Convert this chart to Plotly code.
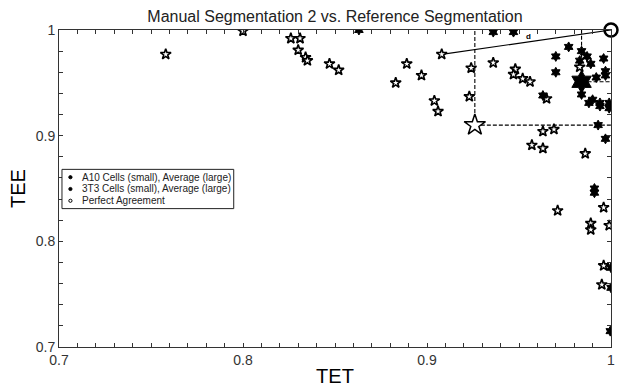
import plotly.graph_objects as go

# A10 cells: (TET, TEE) per cell
a10_tet = [0.863, 0.936, 0.947, 0.977, 0.970, 0.970, 0.984, 0.987, 0.983, 0.989,
           0.996, 0.997, 0.992, 0.997, 0.984, 0.988, 0.990, 0.994, 0.994, 0.999,
           0.999, 0.963, 0.993, 0.997, 0.991, 0.991, 1.000, 1.000, 0.9996]
a10_tee = [1.000, 0.998, 0.998, 0.984, 0.975, 0.960, 0.980, 0.975, 0.971, 0.968,
           0.973, 0.961, 0.955, 0.957, 0.939, 0.931, 0.934, 0.931, 0.928, 0.931,
           0.926, 0.938, 0.910, 0.897, 0.850, 0.846, 0.775, 0.756, 0.715]
a10_avg = (0.984, 0.951)

# 3T3 cells: (TET, TEE) per cell
t3_tet = [0.758, 0.800, 0.826, 0.831, 0.830, 0.834, 0.835, 0.847, 0.852, 0.883,
          0.889, 0.897, 0.904, 0.906, 0.908, 0.924, 0.923, 0.936, 0.948, 0.947,
          0.952, 0.956, 0.965, 0.983, 0.963, 0.969, 0.957, 0.963, 0.986, 0.971,
          0.996, 0.989, 0.989, 0.999, 0.996, 0.995]
t3_tee = [0.977, 0.999, 0.992, 0.992, 0.981, 0.974, 0.971, 0.968, 0.962, 0.950,
          0.968, 0.957, 0.933, 0.923, 0.977, 0.964, 0.937, 0.969, 0.963, 0.958,
          0.954, 0.951, 0.935, 0.965, 0.904, 0.906, 0.891, 0.888, 0.883, 0.829,
          0.832, 0.817, 0.811, 0.815, 0.777, 0.759]
t3_avg = (0.926, 0.910)

perfect = (1.0, 1.0)
# cell whose distance d to perfect agreement is illustrated
d_point = (0.908, 0.977)

tick_vals = [0.7, 0.8, 0.9, 1.0]
tick_text = ["0.7", "0.8", "0.9", "1"]

legend_names = ["A10 Cells (small), Average (large)",
                "3T3 Cells (small), Average (large)",
                "Perfect Agreement"]
legend_filled = [True, True, False]

W, H = 623, 392
ML, MR, MT, MB = 59, 8, 30, 39
PW, PH = W - ML - MR, H - MT - MB


def px(x):
    """pixel column -> paper x"""
    return (x - ML) / PW


def py(y):
    """pixel row -> paper y"""
    return 1 - (y - MT) / PH


fig = go.Figure()

# dashed guides from each average to the TET=1 and TEE=1 edges
for ax, ay in (t3_avg, a10_avg):
    fig.add_trace(go.Scatter(x=[ax, ax, None, ax, 1.0], y=[ay, 1.0, None, ay, ay],
                             mode="lines",
                             line=dict(color="black", width=1.1, dash="4px,2px"),
                             showlegend=False, hoverinfo="skip"))

# distance line d
fig.add_trace(go.Scatter(x=[d_point[0], perfect[0]], y=[d_point[1], perfect[1]],
                         mode="lines", line=dict(color="black", width=1.2),
                         showlegend=False, hoverinfo="skip"))

fig.add_trace(go.Scatter(x=t3_tet, y=t3_tee, mode="markers",
                         marker=dict(symbol="star", size=8, color="white",
                                     line=dict(color="black", width=1.6)),
                         showlegend=False))
fig.add_trace(go.Scatter(x=a10_tet, y=a10_tee, mode="markers",
                         marker=dict(symbol="hexagram", size=7.5, color="black",
                                     line=dict(color="black", width=1)),
                         showlegend=False))

# averages
fig.add_trace(go.Scatter(x=[t3_avg[0]], y=[t3_avg[1]], mode="markers",
                         marker=dict(symbol="star", size=16, color="white",
                                     line=dict(color="black", width=1.5)),
                         showlegend=False))
fig.add_trace(go.Scatter(x=[a10_avg[0]], y=[a10_avg[1]], mode="markers",
                         marker=dict(symbol="hexagram", size=17, color="black",
                                     line=dict(color="black", width=1)),
                         showlegend=False))

fig.add_trace(go.Scatter(x=[perfect[0]], y=[perfect[1]], mode="markers",
                         marker=dict(symbol="circle-open", size=13,
                                     line=dict(color="black", width=2.5), color="black"),
                         cliponaxis=False, showlegend=False))

fig.add_annotation(x=0.955, y=0.994, text="<b>d</b>", showarrow=False,
                   font=dict(size=8, color="black", family="Arial"))

# legend box
fig.add_shape(type="rect", xref="paper", yref="paper",
              x0=px(62), x1=px(235), y0=py(212), y1=py(172),
              line=dict(color="#222", width=1), fillcolor="white", layer="above")
for i, (name, filled) in enumerate(zip(legend_names, legend_filled)):
    row = 180 + 12 * i
    fig.add_shape(type="circle", xref="paper", yref="paper",
                  xsizemode="pixel", ysizemode="pixel",
                  xanchor=px(70.5), yanchor=py(row),
                  x0=-1.6, x1=1.6, y0=-1.6, y1=1.6,
                  line=dict(color="black", width=1),
                  fillcolor="black" if filled else "white", layer="above")
    fig.add_annotation(xref="paper", yref="paper", x=px(80), y=py(row),
                       xanchor="left", yanchor="middle", text=name, showarrow=False,
                       font=dict(size=10, color="#222", family="Arial"))

axis_common = dict(
    showgrid=False, zeroline=False, showline=True, linecolor="#333", linewidth=1,
    mirror="ticks", ticks="inside", ticklen=4, tickwidth=1, tickcolor="#333",
    tickvals=tick_vals, ticktext=tick_text,
    tickfont=dict(size=14, color="#333", family="Arial"),
)

fig.update_xaxes(range=[0.7, 1.0],
                 minor=dict(dtick=0.01, tick0=0.7, ticks="inside", ticklen=4,
                            tickwidth=1, tickcolor="#333"),
                 title=dict(text="TET", font=dict(size=20, color="black", family="Arial"),
                            standoff=2),
                 **axis_common)
fig.update_yaxes(range=[0.7, 1.0],
                 minor=dict(dtick=0.02, tick0=0.7, ticks="inside", ticklen=4,
                            tickwidth=1, tickcolor="#333"),
                 title=dict(text="TEE", font=dict(size=20, color="black", family="Arial"),
                            standoff=4),
                 **axis_common)

fig.update_layout(
    width=W, height=H,
    margin=dict(l=ML, r=MR, t=MT, b=MB),
    plot_bgcolor="white", paper_bgcolor="white",
    title=dict(text="Manual Segmentation 2 vs. Reference Segmentation",
               x=0.5, xref="paper", xanchor="center", y=1 - 16 / H, yanchor="middle",
               font=dict(size=16, color="#222", family="Arial")),
    showlegend=False,
)

fig.write_html("out.html")
